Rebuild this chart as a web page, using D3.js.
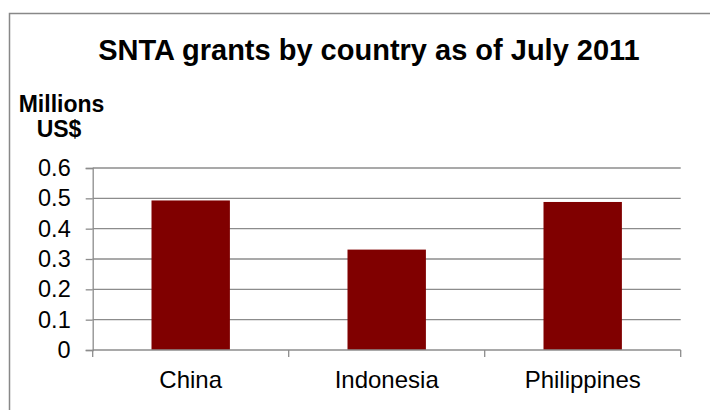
<!DOCTYPE html>
<html>
<head>
<meta charset="utf-8">
<script src="https://cdn.jsdelivr.net/npm/d3@7"></script>
<style>
html, body { margin: 0; padding: 0; background: #fff; }
svg { display: block; font-family: "Liberation Sans", Arial, sans-serif; }
</style>
</head>
<body>
<svg id="chart" width="710" height="410"></svg>
<script>
const categories = ["China", "Indonesia", "Philippines"];
const values = [0.493, 0.331, 0.488];
const yTickValues = [0, 0.1, 0.2, 0.3, 0.4, 0.5, 0.6];
const yTickLabels = ["0", "0.1", "0.2", "0.3", "0.4", "0.5", "0.6"];
const titleText = "SNTA grants by country as of July 2011";
const yAxisTitle = ["Millions", "US$"];

const svg = d3.select("#chart");
const W = 710, H = 410;
const plot = { left: 92.7, right: 680.7, top: 168, bottom: 350 };
const gridColor = "#8c8c8c";
const fontFam = "Liberation Sans, Arial, sans-serif";

// outer frame (cut off at right/bottom)
svg.append("rect")
  .attr("x", 9.5).attr("y", 13.5)
  .attr("width", W + 10).attr("height", H + 10)
  .attr("fill", "#fff").attr("stroke", "#888").attr("stroke-width", 1.5);

const x = d3.scaleBand().domain(categories)
  .range([plot.left, plot.right]).paddingInner(0.6).paddingOuter(0.3);
const y = d3.scaleLinear().domain([0, 0.6]).range([plot.bottom, plot.top]);

// gridlines
svg.append("g").selectAll("line").data(yTickValues.filter(v => v > 0)).join("line")
  .attr("x1", plot.left).attr("x2", plot.right)
  .attr("y1", d => y(d)).attr("y2", d => y(d))
  .attr("stroke", gridColor).attr("stroke-width", 1.3);

// bars
svg.append("g").selectAll("rect").data(values).join("rect")
  .attr("x", (d, i) => x(categories[i]))
  .attr("y", d => y(d))
  .attr("width", x.bandwidth())
  .attr("height", d => y(0) - y(d))
  .attr("fill", "#800000");

// y axis
const yAxis = d3.axisLeft(y).tickValues(yTickValues)
  .tickFormat((d, i) => yTickLabels[i]).tickSize(7).tickPadding(15);
const gy = svg.append("g").attr("transform", `translate(${plot.left},0)`).call(yAxis);
gy.select(".domain").attr("stroke", gridColor).attr("stroke-width", 1.3);
gy.selectAll(".tick line").attr("stroke", gridColor).attr("stroke-width", 1.3);
gy.selectAll(".tick text").attr("font-size", 23.5).attr("fill", "#000")
  .attr("font-family", fontFam);

// x axis
const xAxis = d3.axisBottom(x).tickSize(0).tickPadding(21);
const gx = svg.append("g").attr("transform", `translate(0,${plot.bottom})`).call(xAxis);
gx.select(".domain").remove();
gx.selectAll(".tick text").attr("font-size", 24).attr("fill", "#000")
  .attr("font-family", fontFam);
svg.append("line").attr("x1", plot.left).attr("x2", plot.right)
  .attr("y1", plot.bottom).attr("y2", plot.bottom)
  .attr("stroke", gridColor).attr("stroke-width", 1.3);
const step = x.step();
const bounds = d3.range(categories.length + 1).map(i => plot.left + i * step);
svg.append("g").selectAll("line").data(bounds).join("line")
  .attr("x1", d => d).attr("x2", d => d)
  .attr("y1", plot.bottom).attr("y2", plot.bottom + 7)
  .attr("stroke", gridColor).attr("stroke-width", 1.3);

// title
svg.append("text").attr("x", 369).attr("y", 60)
  .attr("text-anchor", "middle").attr("font-weight", "bold")
  .attr("font-size", 29).attr("fill", "#000").text(titleText);

// y axis title
svg.append("text").attr("x", 61.5).attr("y", 112)
  .attr("text-anchor", "middle").attr("font-weight", "bold")
  .attr("font-size", 23).attr("fill", "#000").text(yAxisTitle[0]);
svg.append("text").attr("x", 59).attr("y", 137)
  .attr("text-anchor", "middle").attr("font-weight", "bold")
  .attr("font-size", 23).attr("fill", "#000").text(yAxisTitle[1]);
</script>
</body>
</html>
